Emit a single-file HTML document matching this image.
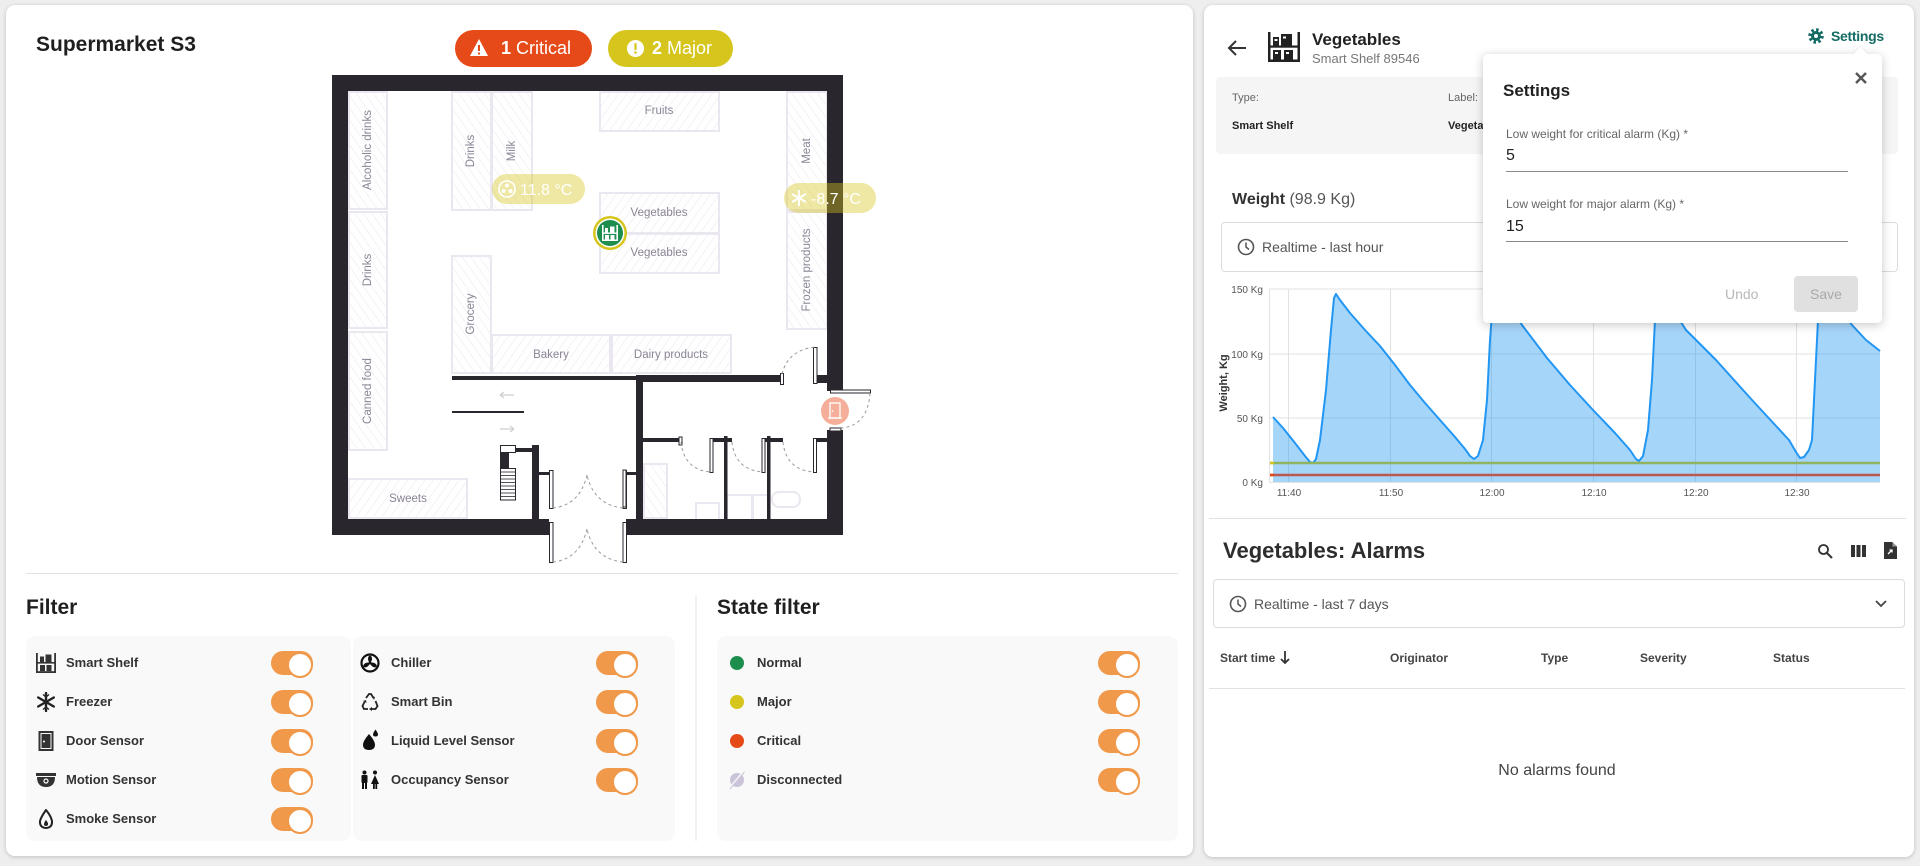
<!DOCTYPE html>
<html><head><meta charset="utf-8">
<style>
*{margin:0;padding:0;box-sizing:border-box}
body{width:1920px;height:866px;background:#eeeeee;font-family:"Liberation Sans",Arial,sans-serif;position:relative;overflow:hidden;color:#333}
.card{position:absolute;background:#fff;border-radius:9px;box-shadow:0 1px 4px rgba(0,0,0,.2)}
.t{position:absolute;white-space:nowrap;line-height:1}
.b{font-weight:bold}
.tog{position:absolute;width:42px;height:24px;border-radius:12px;background:#f0994b}
.tog::after{content:"";position:absolute;right:0;top:1px;width:22px;height:22px;border-radius:50%;background:#fff;border:2px solid #f0994b}
.lbl{position:absolute;white-space:nowrap;line-height:1;font-size:13px;font-weight:bold;color:#333}
.ico{position:absolute}
.panel{position:absolute;background:#f9f9f9;border-radius:9px}
</style></head><body>

<!-- LEFT CARD -->
<div class="card" style="left:6px;top:5px;width:1187px;height:851px"></div>
<div class="t b" style="left:36px;top:34px;font-size:21px;color:#1f1f1f">Supermarket S3</div>

<!-- badges -->
<div style="position:absolute;left:455px;top:30px;width:137px;height:37px;border-radius:19px;background:#e64a19"></div>
<svg class="ico" style="left:469px;top:38px" width="20" height="20" viewBox="0 0 20 20"><path d="M10 1 L19 18 L1 18 Z" fill="#fff"/><rect x="9" y="7" width="2" height="6" fill="#e64a19"/><rect x="9" y="14.5" width="2" height="2" fill="#e64a19"/></svg>
<div class="t" style="left:501px;top:39px;font-size:18px;color:#fff"><b>1</b> Critical</div>
<div style="position:absolute;left:608px;top:30px;width:125px;height:37px;border-radius:19px;background:#d5c51c"></div>
<svg class="ico" style="left:626px;top:39px" width="19" height="19" viewBox="0 0 20 20"><circle cx="10" cy="10" r="9" fill="#fff"/><rect x="8.8" y="4.5" width="2.4" height="7" fill="#d5c51c"/><rect x="8.8" y="13" width="2.4" height="2.4" fill="#d5c51c"/></svg>
<div class="t" style="left:652px;top:39px;font-size:18px;color:#fff"><b>2</b> Major</div>

<!-- FLOOR PLAN -->
<svg style="position:absolute;left:0;top:0" width="1200" height="866" viewBox="0 0 1200 866" font-family="Liberation Sans, Arial, sans-serif">
<defs>
<pattern id="hA" patternUnits="userSpaceOnUse" width="7" height="7" patternTransform="rotate(35)"><line x1="0" y1="0" x2="0" y2="7" stroke="#ece9f1" stroke-width="1.2"/></pattern>
<pattern id="hB" patternUnits="userSpaceOnUse" width="7" height="7" patternTransform="rotate(-35)"><line x1="0" y1="0" x2="0" y2="7" stroke="#ece9f1" stroke-width="1.2"/></pattern>
</defs>
<g stroke="#ebe7f0" stroke-width="2">
<rect x="349" y="92" width="38" height="117" fill="url(#hB)"/>
<rect x="349" y="212" width="38" height="116" fill="url(#hB)"/>
<rect x="349" y="332" width="38" height="118" fill="url(#hB)"/>
<rect x="349" y="479" width="118" height="39" fill="url(#hA)"/>
<rect x="452" y="92" width="39" height="118" fill="url(#hB)"/>
<rect x="492" y="92" width="40" height="118" fill="url(#hB)"/>
<rect x="600" y="92" width="119" height="39" fill="url(#hA)"/>
<rect x="600" y="193" width="119" height="40" fill="url(#hA)"/>
<rect x="600" y="234" width="119" height="39" fill="url(#hA)"/>
<rect x="452" y="256" width="39" height="117" fill="url(#hB)"/>
<rect x="492" y="335" width="118" height="38" fill="url(#hA)"/>
<rect x="612" y="335" width="119" height="38" fill="url(#hA)"/>
<rect x="787" y="92" width="40" height="118" fill="url(#hB)"/>
<rect x="787" y="212" width="40" height="117" fill="url(#hB)"/>
<rect x="644" y="464" width="23" height="54" fill="url(#hB)"/>
<rect x="696" y="503" width="23" height="17" fill="none"/>
<rect x="727" y="495" width="25" height="25" fill="none"/>
<rect x="753" y="495" width="15" height="25" fill="none"/>
<rect x="772" y="492" width="28" height="15" rx="7" fill="none"/>
</g>
<g fill="#8a8494" font-size="11.5" text-anchor="middle" dominant-baseline="central">
<text transform="translate(368 150) rotate(-90)">Alcoholic drinks</text>
<text transform="translate(368 270) rotate(-90)">Drinks</text>
<text transform="translate(368 391) rotate(-90)">Canned food</text>
<text x="408" y="499">Sweets</text>
<text transform="translate(471 151) rotate(-90)">Drinks</text>
<text transform="translate(512 151) rotate(-90)">Milk</text>
<text x="659" y="111">Fruits</text>
<text x="659" y="213">Vegetables</text>
<text x="659" y="253">Vegetables</text>
<text transform="translate(471 314) rotate(-90)">Grocery</text>
<text x="551" y="355">Bakery</text>
<text x="671" y="355">Dairy products</text>
<text transform="translate(807 151) rotate(-90)">Meat</text>
<text transform="translate(807 270) rotate(-90)">Frozen products</text>
</g>
<!-- walls -->
<g fill="#2a262e">
<rect x="332" y="75" width="511" height="16"/>
<rect x="332" y="75" width="16" height="460"/>
<rect x="827" y="75" width="16" height="316"/>
<rect x="827" y="430" width="16" height="105"/>
<rect x="332" y="519" width="217" height="16"/>
<rect x="626" y="519" width="217" height="16"/>
<rect x="452" y="376" width="186" height="4"/>
<rect x="636" y="375" width="147" height="7"/>
<rect x="815" y="375" width="12" height="8"/>
<rect x="636" y="375" width="7" height="145"/>
<rect x="643" y="438" width="37" height="4"/>
<rect x="724" y="436" width="3.5" height="84"/>
<rect x="767" y="436" width="3.5" height="84"/>
<rect x="712" y="438" width="20" height="4"/>
<rect x="763" y="438" width="20" height="4"/>
<rect x="815" y="438" width="12" height="4"/>
<rect x="532" y="445" width="7" height="75"/>
<rect x="516" y="448" width="16" height="4"/>
<rect x="539" y="472" width="11" height="3"/>
<rect x="623" y="472" width="13" height="3"/>
<rect x="452" y="411" width="72" height="2"/>
</g>
<!-- door panels -->
<g fill="#fff" stroke="#2a262e" stroke-width="1">
<rect x="549.5" y="470.5" width="3.5" height="38"/>
<rect x="623" y="470.5" width="3.5" height="38"/>
<rect x="549.5" y="522.5" width="3.5" height="40"/>
<rect x="623" y="522.5" width="3.5" height="40"/>
<rect x="813.5" y="347.5" width="3.5" height="36"/>
<rect x="780.5" y="373.5" width="3" height="11"/>
<rect x="830.5" y="390" width="40" height="3"/>
<rect x="830" y="428" width="11" height="3"/>
<rect x="710" y="438.5" width="3" height="34"/>
<rect x="762" y="438.5" width="3" height="34"/>
<rect x="813.5" y="438.5" width="3" height="34"/>
<rect x="679" y="437" width="3" height="8"/>
<rect x="623" y="470" width="3" height="37"/>
</g>
<g fill="none" stroke="#9a9a9a" stroke-width="1" stroke-dasharray="3 3">
<path d="M553 508 Q580 505 587 475"/>
<path d="M623 508 Q594 505 587 475"/>
<path d="M553 562 Q580 559 587 529"/>
<path d="M623 562 Q594 559 587 529"/>
<path d="M782 374 Q788 350 815 347"/>
<path d="M870 393 Q868 425 842 428"/>
<path d="M681 442 Q684 470 711 472"/>
<path d="M732 442 Q735 470 763 472"/>
<path d="M783 442 Q786 470 814 472"/>
</g>
<!-- stairs -->
<rect x="500.5" y="445.5" width="15" height="7" fill="#fff" stroke="#2a262e"/>
<rect x="500" y="453" width="9" height="15" fill="#2a262e"/>
<rect x="500.5" y="468.5" width="15" height="31.5" fill="#fff" stroke="#2a262e"/>
<g stroke="#2a262e" stroke-width="0.8"><line x1="501" y1="472" x2="515" y2="472"/><line x1="501" y1="475.5" x2="515" y2="475.5"/><line x1="501" y1="479" x2="515" y2="479"/><line x1="501" y1="482.5" x2="515" y2="482.5"/><line x1="501" y1="486" x2="515" y2="486"/><line x1="501" y1="489.5" x2="515" y2="489.5"/><line x1="501" y1="493" x2="515" y2="493"/><line x1="501" y1="496.5" x2="515" y2="496.5"/></g>
<!-- arrows -->
<g stroke="#cfcfcf" stroke-width="1.2" fill="none"><path d="M500 395 H514 M500 395 l4 -3 M500 395 l4 3"/><path d="M500 429 H514 M514 429 l-4 -3 M514 429 l-4 3"/></g>
<!-- pills -->
<rect x="492" y="174" width="93" height="30" rx="15" fill="rgba(213,197,28,0.4)"/>
<circle cx="507" cy="189" r="8" fill="none" stroke="#fff" stroke-width="1.6"/>
<g fill="#fff"><circle cx="507" cy="185.5" r="2"/><circle cx="510.5" cy="191" r="2"/><circle cx="503.5" cy="191" r="2"/></g>
<text x="520" y="195" font-size="16" fill="#fff">11.8 °C</text>
<rect x="784" y="183" width="92" height="30" rx="15" fill="rgba(213,197,28,0.4)"/>
<g stroke="#fff" stroke-width="2"><line x1="799" y1="190" x2="799" y2="206"/><line x1="792" y1="194" x2="806" y2="202"/><line x1="792" y1="202" x2="806" y2="194"/></g>
<text x="811" y="204" font-size="16" fill="#fff">-8.7 °C</text>
<!-- smart shelf marker -->
<circle cx="610" cy="233" r="17" fill="#d5c51c"/>
<circle cx="610" cy="233" r="14.5" fill="#fff"/>
<circle cx="610" cy="233" r="13" fill="#1e8e4e"/>
<g fill="#fff"><rect x="602" y="225" width="1.6" height="16"/><rect x="616.4" y="225" width="1.6" height="16"/><rect x="602" y="232.5" width="16" height="1.4"/><rect x="602" y="239.5" width="16" height="1.5"/><rect x="605" y="228" width="3" height="4.5"/><rect x="610" y="226.5" width="4.5" height="6"/><rect x="605" y="235" width="4" height="4.5"/><rect x="610.5" y="235" width="4" height="4.5"/></g>
<!-- door sensor marker -->
<circle cx="835" cy="411" r="14" fill="rgba(240,140,110,0.7)"/>
<rect x="830" y="403" width="10" height="15" fill="none" stroke="#fff" stroke-width="1.3"/>
<line x1="828" y1="418" x2="842" y2="418" stroke="#fff" stroke-width="1.3"/>
<circle cx="832.5" cy="411" r="0.9" fill="#fff"/>
<!-- separator -->
<rect x="26" y="573" width="1152" height="1" fill="#e2e2e2"/>
<rect x="695.5" y="595" width="1" height="246" fill="#e2e2e2"/>
</svg>

<!-- FILTER -->
<div class="t b" style="left:26px;top:597px;font-size:21px;color:#1f1f1f">Filter</div>
<div class="panel" style="left:26px;top:636px;width:325px;height:205px"></div>
<div class="panel" style="left:353px;top:636px;width:322px;height:205px"></div>
<div class="t b" style="left:717px;top:597px;font-size:21px;color:#1f1f1f">State filter</div>
<div class="panel" style="left:717px;top:636px;width:461px;height:205px"></div>

<!-- left col icons -->
<svg class="ico" style="left:36px;top:653px" width="20" height="20" viewBox="0 0 20 20"><g fill="#333"><rect x="0" y="0" width="1.8" height="20"/><rect x="18.2" y="0" width="1.8" height="20"/><rect x="0" y="18.2" width="20" height="1.8"/><rect x="0" y="9" width="20" height="1.6"/><rect x="4" y="3.5" width="4" height="5.5"/><rect x="9.5" y="1.5" width="6" height="7.5"/><rect x="4" y="12" width="5" height="6.2"/><rect x="10.5" y="12" width="5" height="6.2"/></g></svg>
<svg class="ico" style="left:36px;top:692px" width="20" height="20" viewBox="0 0 20 20"><g stroke="#222" stroke-width="2.4" stroke-linecap="round"><line x1="10" y1="1" x2="10" y2="19"/><line x1="2.2" y1="5.5" x2="17.8" y2="14.5"/><line x1="2.2" y1="14.5" x2="17.8" y2="5.5"/></g><g stroke="#222" stroke-width="1.4" fill="none"><path d="M7 2.5 L10 5 L13 2.5 M7 17.5 L10 15 L13 17.5"/></g></svg>
<svg class="ico" style="left:38px;top:731px" width="16" height="20" viewBox="0 0 16 20"><rect x="1.5" y="1" width="13" height="18" fill="none" stroke="#333" stroke-width="2"/><rect x="3.5" y="3" width="9" height="14" fill="#333"/><circle cx="6" cy="10.5" r="1" fill="#fff"/></svg>
<svg class="ico" style="left:36px;top:772px" width="20" height="16" viewBox="0 0 20 16"><rect x="0" y="1" width="20" height="3" fill="#333"/><path d="M1 5 H19 Q19 15 10 15 Q1 15 1 5Z" fill="#333"/><circle cx="10" cy="9" r="2" fill="none" stroke="#fff" stroke-width="1.2"/></svg>
<svg class="ico" style="left:38px;top:809px" width="16" height="20" viewBox="0 0 16 20"><path d="M8 1 Q13 7 14 12 Q14.5 18.5 8 19 Q1.5 18.5 2 12 Q3 8 8 1Z" fill="none" stroke="#222" stroke-width="2"/><path d="M8 11 Q10.5 14 10 16 Q8 18 6 16 Q6 13 8 11Z" fill="#222"/></svg>
<div class="lbl" style="left:66px;top:656px">Smart Shelf</div>
<div class="lbl" style="left:66px;top:695px">Freezer</div>
<div class="lbl" style="left:66px;top:734px">Door Sensor</div>
<div class="lbl" style="left:66px;top:773px">Motion Sensor</div>
<div class="lbl" style="left:66px;top:812px">Smoke Sensor</div>
<div class="tog" style="left:271px;top:651px"></div>
<div class="tog" style="left:271px;top:690px"></div>
<div class="tog" style="left:271px;top:729px"></div>
<div class="tog" style="left:271px;top:768px"></div>
<div class="tog" style="left:271px;top:807px"></div>

<!-- right col icons -->
<svg class="ico" style="left:360px;top:653px" width="20" height="20" viewBox="0 0 20 20"><circle cx="10" cy="10" r="8.5" fill="none" stroke="#111" stroke-width="2.2"/><g fill="#111"><ellipse cx="10" cy="5.8" rx="2" ry="3.2"/><ellipse cx="13.8" cy="12" rx="2" ry="3.2" transform="rotate(120 13.8 12)"/><ellipse cx="6.2" cy="12" rx="2" ry="3.2" transform="rotate(240 6.2 12)"/><circle cx="10" cy="10" r="1.6"/></g></svg>
<svg class="ico" style="left:361px;top:692px" width="18" height="20" viewBox="0 0 18 20"><g fill="none" stroke="#222" stroke-width="1.8"><path d="M5 6 L8 2 H10 L12.5 6"/><path d="M14.5 9 L16.5 14 L14.5 17 H11"/><path d="M7 17 H3 L1.5 14 L3.5 10"/></g><g fill="#222"><path d="M11 4 l3 1 l-1 3z"/><path d="M11 15 l0 4 l-3 -2z"/><path d="M2 9 l3 -1 l0.5 3z"/></g></svg>
<svg class="ico" style="left:361px;top:729px" width="18" height="22" viewBox="0 0 18 22"><path d="M8 5 Q14 12 14 15.5 Q14 21 8 21 Q2 21 2 15.5 Q2 12 8 5Z" fill="#111"/><path d="M14.5 0.5 Q17 4 17 5.5 Q17 7.5 14.5 7.5 Q12 7.5 12 5.5 Q12 4 14.5 0.5Z" fill="#111"/></svg>
<svg class="ico" style="left:360px;top:770px" width="20" height="20" viewBox="0 0 20 20"><g fill="#111"><circle cx="4.5" cy="2.5" r="2"/><rect x="1.5" y="5" width="6" height="8" rx="1"/><rect x="2" y="12" width="2" height="7"/><rect x="5" y="12" width="2" height="7"/><circle cx="15" cy="2.5" r="2"/><path d="M15 5 L19 14 H11Z"/><rect x="13" y="13" width="1.8" height="6"/><rect x="15.4" y="13" width="1.8" height="6"/></g></svg>
<div class="lbl" style="left:391px;top:656px">Chiller</div>
<div class="lbl" style="left:391px;top:695px">Smart Bin</div>
<div class="lbl" style="left:391px;top:734px">Liquid Level Sensor</div>
<div class="lbl" style="left:391px;top:773px">Occupancy Sensor</div>
<div class="tog" style="left:596px;top:651px"></div>
<div class="tog" style="left:596px;top:690px"></div>
<div class="tog" style="left:596px;top:729px"></div>
<div class="tog" style="left:596px;top:768px"></div>

<!-- state filter -->
<svg class="ico" style="left:728px;top:654px" width="18" height="180" viewBox="0 0 18 180"><circle cx="9" cy="9" r="7" fill="#1e8e4e"/><circle cx="9" cy="48" r="7" fill="#d5c51c"/><circle cx="9" cy="87" r="7" fill="#e64a19"/><circle cx="9" cy="126" r="7" fill="#cbc3d8"/><line x1="1" y1="135" x2="16" y2="117" stroke="#f9f9f9" stroke-width="2"/><line x1="2" y1="135" x2="16.5" y2="118" stroke="#cbc3d8" stroke-width="1"/></svg>
<div class="lbl" style="left:757px;top:656px">Normal</div>
<div class="lbl" style="left:757px;top:695px">Major</div>
<div class="lbl" style="left:757px;top:734px">Critical</div>
<div class="lbl" style="left:757px;top:773px">Disconnected</div>
<div class="tog" style="left:1098px;top:651px"></div>
<div class="tog" style="left:1098px;top:690px"></div>
<div class="tog" style="left:1098px;top:729px"></div>
<div class="tog" style="left:1098px;top:768px"></div>

<!-- RIGHT CARD -->
<div class="card" style="left:1204px;top:5px;width:710px;height:852px"></div>
<svg class="ico" style="left:1227px;top:39px" width="20" height="18" viewBox="0 0 20 18"><g stroke="#333" stroke-width="2" fill="none"><line x1="2" y1="9" x2="19" y2="9"/><path d="M9 2 L2 9 L9 16"/></g></svg>
<svg class="ico" style="left:1268px;top:32px" width="32" height="30" viewBox="0 0 32 30"><g fill="#222"><rect x="0" y="0" width="2.5" height="30"/><rect x="29.5" y="0" width="2.5" height="30"/><rect x="0" y="27.5" width="32" height="2.5"/><rect x="0" y="13.5" width="32" height="2.2"/><rect x="5" y="5" width="6" height="8.5"/><rect x="13" y="2" width="11" height="11.5"/><rect x="5" y="18" width="8" height="9.5"/><rect x="16" y="18" width="9" height="9.5"/></g><g fill="#fff"><rect x="6.5" y="7" width="3" height="2"/><rect x="15" y="4.5" width="3" height="2"/><rect x="7" y="20" width="3" height="2"/><rect x="18" y="20" width="3" height="2"/></g></svg>
<div class="t b" style="left:1312px;top:31px;font-size:17px;color:#222">Vegetables</div>
<div class="t" style="left:1312px;top:52px;font-size:13px;color:#777">Smart Shelf 89546</div>
<svg class="ico" style="left:1808px;top:28px" width="16" height="16" viewBox="0 0 16 16"><circle cx="8" cy="8" r="6" fill="none" stroke="#136b64" stroke-width="3.5" stroke-dasharray="2.4 2.3"/><circle cx="8" cy="8" r="5" fill="#136b64"/><circle cx="8" cy="8" r="2" fill="#fff"/></svg>
<div class="t" style="left:1831px;top:29px;font-size:14px;color:#136b64;font-weight:bold;letter-spacing:-0.3px">Settings</div>

<div style="position:absolute;left:1216px;top:77px;width:682px;height:77px;background:#f5f5f5;border-radius:4px"></div>
<div class="t" style="left:1232px;top:93px;font-size:11px;color:#666">Type:</div>
<div class="t b" style="left:1232px;top:121px;font-size:11px;color:#222">Smart Shelf</div>
<div class="t" style="left:1448px;top:93px;font-size:11px;color:#666">Label:</div>
<div class="t b" style="left:1448px;top:121px;font-size:11px;color:#222">Vegetables</div>

<div class="t" style="left:1232px;top:192px;font-size:16px;color:#555"><b style="color:#333">Weight</b> (98.9 Kg)</div>
<div style="position:absolute;left:1221px;top:222px;width:677px;height:50px;border:1px solid #dcdcdc;border-radius:4px"></div>
<svg class="ico" style="left:1237px;top:238px" width="18" height="18" viewBox="0 0 18 18"><circle cx="9" cy="9" r="7.5" fill="none" stroke="#555" stroke-width="1.6"/><path d="M9 4.5 V9 L12 11.5" fill="none" stroke="#555" stroke-width="1.5"/></svg>
<div class="t" style="left:1262px;top:240px;font-size:14px;color:#555">Realtime - last hour</div>

<!-- CHART -->
<svg style="position:absolute;left:1200px;top:270px" width="720" height="260" viewBox="1200 270 720 260" font-family="Liberation Sans, Arial, sans-serif">
<g stroke="#e2e2e2" stroke-width="1">
<line x1="1269" y1="289" x2="1880" y2="289"/>
<line x1="1269" y1="354" x2="1880" y2="354"/>
<line x1="1269" y1="418" x2="1880" y2="418"/>
<line x1="1288.5" y1="289" x2="1288.5" y2="482"/>
<line x1="1390.5" y1="289" x2="1390.5" y2="482"/>
<line x1="1491.5" y1="289" x2="1491.5" y2="482"/>
<line x1="1593.5" y1="289" x2="1593.5" y2="482"/>
<line x1="1695.5" y1="289" x2="1695.5" y2="482"/>
<line x1="1796.5" y1="289" x2="1796.5" y2="482"/>
<line x1="1269.5" y1="289" x2="1269.5" y2="482"/>
<line x1="1269" y1="482.5" x2="1880" y2="482.5"/>
</g>
<path d="M1273,482 L1273,417 L1283,428 L1295,443 L1305,456 L1310,462 L1313,463 L1316,459 L1320,440 L1326,390 L1331,330 L1334,298 L1336,294 L1340,300 L1350,313 L1365,330 L1380,346 L1395,365 L1410,385 L1425,403 L1440,420 L1455,437 L1465,449 L1470,456 L1474,459 L1478,456 L1483,440 L1487,400 L1490,340 L1493,300 L1496,292 L1502,298 L1512,310 L1522,325 L1547,358 L1570,385 L1593,410 L1615,433 L1630,450 L1636,459 L1639,461 L1643,456 L1648,430 L1652,380 L1655,320 L1658,294 L1662,292 L1670,305 L1686,330 L1716,360 L1752,400 L1789,440 L1796,452 L1800,458 L1804,457 L1809,450 L1812,440 L1815,380 L1818,320 L1821,296 L1826,292 L1835,300 L1852,325 L1866,340 L1880,351 L1880,482 Z" fill="rgba(33,150,243,0.4)"/>
<path d="M1273,417 L1283,428 L1295,443 L1305,456 L1310,462 L1313,463 L1316,459 L1320,440 L1326,390 L1331,330 L1334,298 L1336,294 L1340,300 L1350,313 L1365,330 L1380,346 L1395,365 L1410,385 L1425,403 L1440,420 L1455,437 L1465,449 L1470,456 L1474,459 L1478,456 L1483,440 L1487,400 L1490,340 L1493,300 L1496,292 L1502,298 L1512,310 L1522,325 L1547,358 L1570,385 L1593,410 L1615,433 L1630,450 L1636,459 L1639,461 L1643,456 L1648,430 L1652,380 L1655,320 L1658,294 L1662,292 L1670,305 L1686,330 L1716,360 L1752,400 L1789,440 L1796,452 L1800,458 L1804,457 L1809,450 L1812,440 L1815,380 L1818,320 L1821,296 L1826,292 L1835,300 L1852,325 L1866,340 L1880,351" fill="none" stroke="#2196f3" stroke-width="2" stroke-linejoin="round"/>
<line x1="1270" y1="463" x2="1880" y2="463" stroke="#8fb35e" stroke-width="2.5"/>
<line x1="1270" y1="475" x2="1880" y2="475" stroke="#b85a52" stroke-width="2.5"/>
<line x1="1270" y1="463" x2="1274" y2="463" stroke="#d5c51c" stroke-width="2.5"/>
<line x1="1270" y1="475" x2="1274" y2="475" stroke="#e64a19" stroke-width="2.5"/>
<g font-size="10" fill="#555" text-anchor="end">
<text x="1263" y="293">150 Kg</text>
<text x="1263" y="358">100 Kg</text>
<text x="1263" y="422">50 Kg</text>
<text x="1263" y="486">0 Kg</text>
</g>
<g font-size="10" fill="#555" text-anchor="middle">
<text x="1289" y="496">11:40</text>
<text x="1391" y="496">11:50</text>
<text x="1492" y="496">12:00</text>
<text x="1594" y="496">12:10</text>
<text x="1696" y="496">12:20</text>
<text x="1797" y="496">12:30</text>
</g>
<text transform="translate(1227 383) rotate(-90)" font-size="11" font-weight="bold" fill="#333" text-anchor="middle">Weight, Kg</text>
<rect x="1209" y="518" width="697" height="1" fill="#e2e2e2"/>
</svg>

<!-- ALARMS -->
<div class="t b" style="left:1223px;top:540px;font-size:22px;color:#2d2d2d">Vegetables: Alarms</div>
<svg class="ico" style="left:1817px;top:543px" width="16" height="16" viewBox="0 0 16 16"><circle cx="6.5" cy="6.5" r="4.5" fill="none" stroke="#333" stroke-width="1.8"/><line x1="10" y1="10" x2="15" y2="15" stroke="#333" stroke-width="2"/></svg>
<svg class="ico" style="left:1851px;top:545px" width="15" height="12" viewBox="0 0 15 12"><g fill="#333"><rect x="0" y="0" width="4" height="12"/><rect x="5.5" y="0" width="4" height="12"/><rect x="11" y="0" width="4" height="12"/></g></svg>
<svg class="ico" style="left:1884px;top:542px" width="13" height="17" viewBox="0 0 13 17"><path d="M0 0 H8.5 L13 4.5 V17 H0Z" fill="#333"/><path d="M8.5 0 V4.5 H13" fill="#fff" opacity="0.5"/><path d="M4 12 L8 8 M5.5 8 H8 V10.5" stroke="#fff" stroke-width="1.3" fill="none"/></svg>
<div style="position:absolute;left:1213px;top:579px;width:692px;height:49px;border:1px solid #dcdcdc;border-radius:4px"></div>
<svg class="ico" style="left:1229px;top:595px" width="18" height="18" viewBox="0 0 18 18"><circle cx="9" cy="9" r="7.5" fill="none" stroke="#555" stroke-width="1.6"/><path d="M9 4.5 V9 L12 11.5" fill="none" stroke="#555" stroke-width="1.5"/></svg>
<div class="t" style="left:1254px;top:597px;font-size:14px;color:#555">Realtime - last 7 days</div>
<svg class="ico" style="left:1875px;top:600px" width="12" height="8" viewBox="0 0 12 8"><path d="M1 1 L6 6 L11 1" fill="none" stroke="#444" stroke-width="1.8"/></svg>
<div class="t b" style="left:1220px;top:652px;font-size:12px;color:#444">Start time</div>
<svg class="ico" style="left:1280px;top:651px" width="10" height="13" viewBox="0 0 10 13"><line x1="5" y1="0" x2="5" y2="12" stroke="#333" stroke-width="1.8"/><path d="M1 8 L5 12 L9 8" fill="none" stroke="#333" stroke-width="1.8"/></svg>
<div class="t b" style="left:1390px;top:652px;font-size:12px;color:#444">Originator</div>
<div class="t b" style="left:1541px;top:652px;font-size:12px;color:#444">Type</div>
<div class="t b" style="left:1640px;top:652px;font-size:12px;color:#444">Severity</div>
<div class="t b" style="left:1773px;top:652px;font-size:12px;color:#444">Status</div>
<div style="position:absolute;left:1209px;top:688px;width:696px;height:1px;background:#e2e2e2"></div>
<div class="t" style="left:1497px;top:763px;font-size:16px;color:#444;width:120px;text-align:center">No alarms found</div>

<!-- SETTINGS POPUP -->
<div style="position:absolute;left:1483px;top:54px;width:399px;height:269px;background:#fff;border-radius:5px;box-shadow:0 2px 10px rgba(0,0,0,.22)"></div>
<div style="position:absolute;left:1855px;top:49px;width:11px;height:11px;background:#fff;transform:rotate(45deg);box-shadow:-1px -1px 2px rgba(0,0,0,.06)"></div>
<svg class="ico" style="left:1855px;top:72px" width="12" height="12" viewBox="0 0 12 12"><g stroke="#555" stroke-width="2.4"><line x1="1" y1="1" x2="11" y2="11"/><line x1="11" y1="1" x2="1" y2="11"/></g></svg>
<div class="t b" style="left:1503px;top:82px;font-size:17px;color:#222">Settings</div>
<div class="t" style="left:1506px;top:128px;font-size:12px;color:#666">Low weight for critical alarm (Kg) *</div>
<div class="t" style="left:1506px;top:148px;font-size:16px;color:#222">5</div>
<div style="position:absolute;left:1506px;top:171px;width:342px;height:1px;background:#8a8a8a"></div>
<div class="t" style="left:1506px;top:198px;font-size:12px;color:#666">Low weight for major alarm (Kg) *</div>
<div class="t" style="left:1506px;top:219px;font-size:16px;color:#222">15</div>
<div style="position:absolute;left:1506px;top:241px;width:342px;height:1px;background:#8a8a8a"></div>
<div class="t" style="left:1725px;top:287px;font-size:14px;color:#b8b8b8">Undo</div>
<div style="position:absolute;left:1794px;top:276px;width:64px;height:36px;background:#e0e0e0;border-radius:4px"></div>
<div class="t" style="left:1794px;top:287px;width:64px;text-align:center;font-size:14px;color:#a8a8a8">Save</div>

</body></html>
